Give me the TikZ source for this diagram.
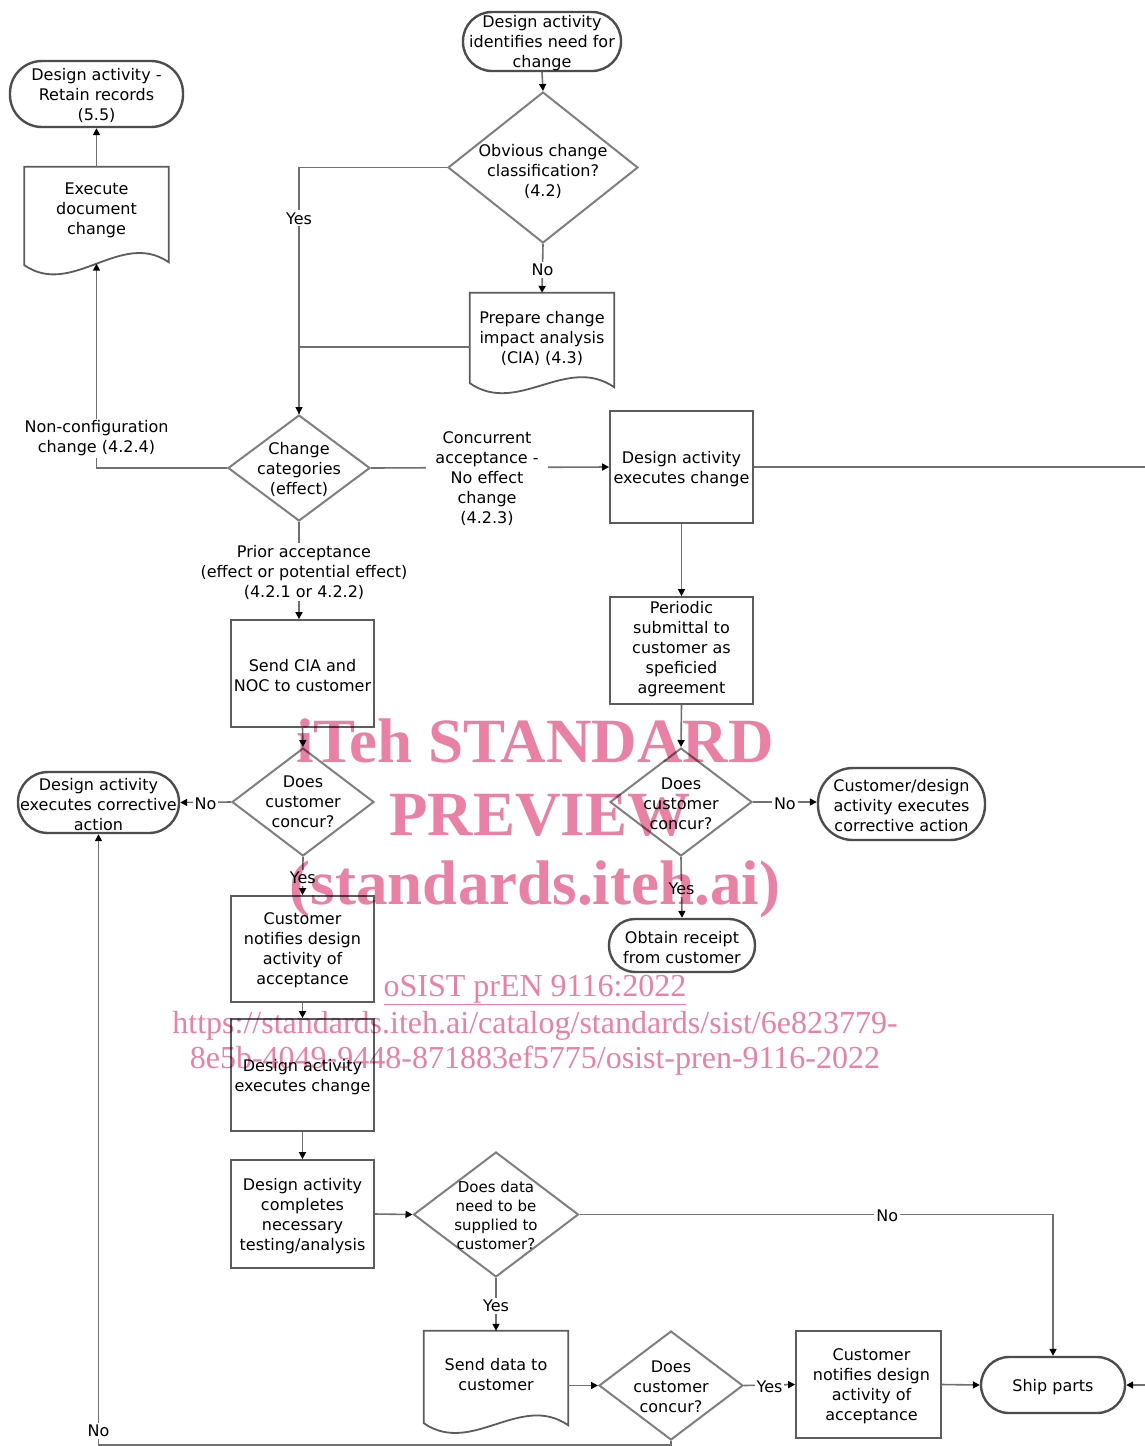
\documentclass[tikz,border=0pt]{standalone}
\usepackage{fontspec}
\setmainfont{DejaVu Sans}
\newfontfamily\wmfont{Liberation Serif}
\usetikzlibrary{shapes.geometric,arrows.meta,calc}
\definecolor{lc}{HTML}{707070}
\definecolor{termc}{HTML}{4D4D4D}
\definecolor{boxc}{HTML}{5C5C5C}
\definecolor{decc}{HTML}{7F7F7F}
\definecolor{wm}{RGB}{234,128,163}
% #1 node, #2 drop of left end, #3 drop of right end (below node's south side)
\newcommand\docout[3]{\draw[docb] (#1.north west) -- (#1.north east) -- ($(#1.south east)+(0,-#3)$) .. controls +(-48,33) and +(48,-33) .. ($(#1.south west)+(0,-#2)$) -- cycle;}
\newcommand\shapetext[2]{\node (#1t) at ([yshift=-1.6pt]#1.center) {#2};}
\begin{document}
\begin{tikzpicture}[x=1pt,y=1pt,
  every node/.style={font=\fontsize{16}{20}\selectfont, align=center, inner sep=0pt},
  term/.style={rectangle, rounded corners=#1, draw=termc, line width=2.4pt},
  proc/.style={rectangle, draw=boxc, line width=1.8pt},
  dec/.style={diamond, draw=decc, line width=2pt},
  docn/.style={rectangle, minimum width=144pt, minimum height=84pt},
  docb/.style={draw=boxc, line width=1.8pt},
  conn/.style={draw=lc, line width=1.6pt},
  arr/.style={conn, -{Triangle[length=7pt,width=7pt,color=black]}},
  lbl/.style={fill=white, inner sep=2pt, yshift=-1.5pt},
  wmb/.style={text=wm, font=\wmfont\bfseries\fontsize{63}{63}\selectfont},
  wms/.style={text=wm, font=\wmfont\fontsize{32}{32}\selectfont},
]
\useasboundingbox (0,0) rectangle (1144,-1446);
\fill[white] (0,0) rectangle (1144,-1446);

% ---------- shapes ----------
\node[term=29pt, minimum width=158pt, minimum height=59pt] (T1) at (542,-41.5) {};
\shapetext{T1}{Design activity\\identifies need for\\change}
\node[dec, minimum width=190pt, minimum height=151pt] (Q1) at (543,-167.5) {};
\node (Q1t) at ([yshift=-3.5pt]Q1.center) {Obvious change\\classification?\\(4.2)};
\node[docn] (D2) at (542,-335) {};
\node (D2t) at ([yshift=-3pt]D2.center) {Prepare change\\impact analysis\\(CIA) (4.3)};
\docout{D2}{6}{10}
\node[dec, minimum width=142pt, minimum height=106pt] (Q2) at (299,-468) {};
\shapetext{Q2}{Change\\categories\\(effect)}
\node[docn] (D1) at (96.5,-209) {};
\shapetext{D1}{Execute\\document\\change}
\docout{D1}{14}{11}
\coordinate (D1b) at ($(D1.south)+(0,-12.5)$);
\node[term=32pt, minimum width=173pt, minimum height=66pt] (T2) at (96.5,-94) {};
\shapetext{T2}{Design activity -\\Retain records\\(5.5)}
\node[proc, minimum width=143pt, minimum height=112pt] (P1) at (681.5,-467) {};
\shapetext{P1}{Design activity\\executes change}
\node[proc, minimum width=143pt, minimum height=107pt] (P2) at (681.5,-650.5) {};
\node (P2t) at ([yshift=1pt]P2.center) {Periodic\\submittal to\\customer as\\speficied\\agreement};
\node[dec, minimum width=142pt, minimum height=108pt] (Q4) at (681,-802) {};
\shapetext{Q4}{Does\\customer\\concur?}
\node[term=35pt, minimum width=167pt, minimum height=72pt] (T4) at (901.5,-804) {};
\shapetext{T4}{Customer/design\\activity executes\\corrective action}
\node[term=26pt, minimum width=146pt, minimum height=53pt] (T5) at (682,-945.5) {};
\shapetext{T5}{Obtain receipt\\from customer}
\node[proc, minimum width=143pt, minimum height=107pt] (P3) at (302.5,-673.5) {};
\shapetext{P3}{Send CIA and\\NOC to customer}
\node[dec, minimum width=142pt, minimum height=108pt] (Q3) at (303,-802) {};
\node (Q3t) at (Q3.center) {Does\\customer\\concur?};
\node[term=30pt, minimum width=161pt, minimum height=61pt] (T3) at (98.5,-802.5) {};
\shapetext{T3}{Design activity\\executes corrective\\action}
\node[proc, minimum width=143pt, minimum height=106pt] (P4) at (302.5,-949) {};
\shapetext{P4}{Customer\\notifies design\\activity of\\acceptance}
\node[proc, minimum width=143pt, minimum height=112pt] (P5) at (302.5,-1075) {};
\shapetext{P5}{Design activity\\executes change}
\node[proc, minimum width=143pt, minimum height=108pt] (P6) at (302.5,-1214) {};
\shapetext{P6}{Design activity\\completes\\necessary\\testing/analysis}
\node[dec, minimum width=165pt, minimum height=125pt] (Q5) at (496,-1214.5) {};
\node[font=\fontsize{15}{19}\selectfont] (Q5t) at ([yshift=-1pt]Q5.center) {Does data\\need to be\\supplied to\\customer?};
\node[docn] (D3) at (496,-1373) {};
\shapetext{D3}{Send data to\\customer}
\docout{D3}{8}{10}
\node[dec, minimum width=144pt, minimum height=109pt] (Q6) at (671,-1385.5) {};
\shapetext{Q6}{Does\\customer\\concur?}
\node[proc, minimum width=145pt, minimum height=107pt] (P7) at (868.5,-1384.5) {};
\node (P7t) at ([xshift=3pt,yshift=-1.6pt]P7.center) {Customer\\notifies design\\activity of\\acceptance};
\node[term=28pt, minimum width=144pt, minimum height=56pt] (T6) at (1053,-1385) {};
\shapetext{T6}{Ship parts}
\coordinate (RE) at (1170,-1385);

% ---------- connectors ----------
\draw[arr] (T1.south) -- (Q1.north);
\draw[arr] (Q1.south) -- node[lbl]{No} (D2.north);
\draw[conn] ([yshift=-12pt]D2.west) -| (Q2.north);
\draw[arr] (Q1.west) -| node[lbl,pos=0.6]{Yes} (Q2.north);
\draw[arr] (Q2.west) -| node[lbl,pos=0.576]{Non-configuration\\change (4.2.4)} (D1b);
\draw[arr] (D1.north) -- (T2.south);
\draw[arr] (Q2.east) -- node[lbl, yshift=-10pt, xshift=-3pt, inner xsep=9pt]{Concurrent\\acceptance -\\No effect\\change\\(4.2.3)} (P1.west);
\draw[arr] (P1.east) -| (RE) -- (T6.east);
\draw[arr] (P1.south) -- (P2.north);
\draw[arr] (P2.south) -- (Q4.north);
\draw[arr] (Q4.east) -- node[lbl]{No} (Q4.east -| T4.west);
\draw[arr] (Q4.south) -- node[lbl]{Yes} (T5.north);
\draw[arr] (Q2.south) -- node[lbl, xshift=5pt]{Prior acceptance\\(effect or potential effect)\\(4.2.1 or 4.2.2)} (Q2.south |- P3.north);
\draw[arr] (P3.south) -- (Q3.north);
\draw[arr] (Q3.west) -- node[lbl]{No} (T3.east);
\draw[arr] (Q3.south) -- node[lbl]{Yes} (P4.north);
\draw[arr] (P4.south) -- (P5.north);
\draw[arr] (P5.south) -- (P6.north);
\draw[arr] (P6.east) -- (Q5.west);
\draw[arr] (Q5.east) -| node[lbl,pos=0.325]{No} (T6.north);
\draw[arr] (Q5.south) -- node[lbl]{Yes} (D3.north);
\draw[arr] (Q6.west -| D3.east) -- (Q6.west);
\draw[arr] (Q6.east) -- node[lbl]{Yes} (P7.west);
\draw[arr] (P7.east) -- (T6.west);
\draw[arr] (Q6.south) -- ++(0,-4) -| node[lbl,pos=0.513]{No} (T3.south);

% ---------- watermark ----------
\begin{scope}[blend mode=multiply]
\node[wmb] (W1) at (535,-741) {iTeh STANDARD};
\node[wmb] (W2) at (540,-815) {PREVIEW};
\node[wmb] (W3) at (535,-889) {(standards.iteh.ai)};
\node[wms] (W4) at (535,-990) {\underline{oSIST prEN 9116:2022}};
\node[wms] (W5) at (535,-1026) {https://standards.iteh.ai/catalog/standards/sist/6e823779-};
\node[wms] (W6) at (535,-1061) {8e5b-4049-9448-871883ef5775/osist-pren-9116-2022};
\end{scope}
\end{tikzpicture}
\end{document}
